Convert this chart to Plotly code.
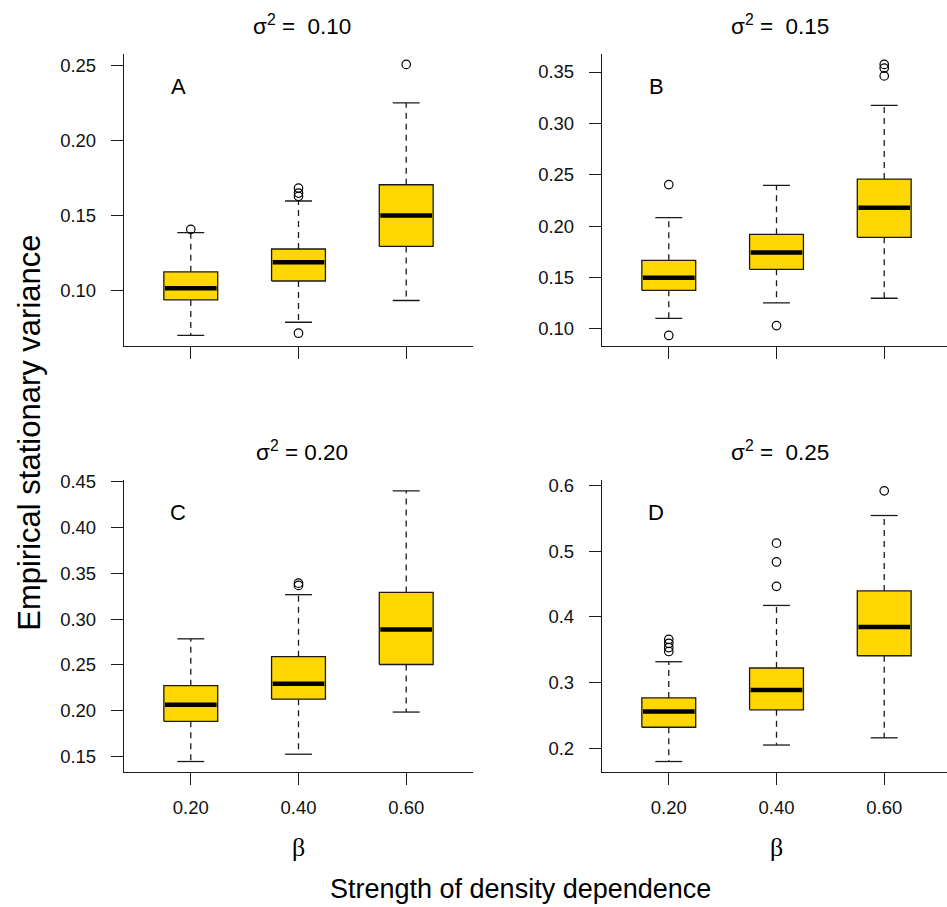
import plotly.graph_objects as go

# ---------------- data ----------------
beta_vals = [1, 2, 3]
beta_labels = ["0.20", "0.40", "0.60"]
panel_letters = ["A", "B", "C", "D"]
panel_titles = ["σ<sup>2</sup> =\u00a0\u00a00.10", "σ<sup>2</sup> =\u00a0\u00a00.15",
                "σ<sup>2</sup> = 0.20", "σ<sup>2</sup> =\u00a0\u00a00.25"]

# Panel A  (sigma^2 = 0.10)
a_lower = [0.0699, 0.0787, 0.0932]
a_q1 = [0.0936, 0.1062, 0.1292]
a_median = [0.1013, 0.1187, 0.1499]
a_q3 = [0.1123, 0.1275, 0.1703]
a_upper = [0.1384, 0.1595, 0.2248]
a_outliers = [[0.1406], [0.1681, 0.1648, 0.1626, 0.0714], [0.2505]]
a_ticks = [0.10, 0.15, 0.20, 0.25]

# Panel B  (sigma^2 = 0.15)
b_lower = [0.1103, 0.1253, 0.1298]
b_q1 = [0.1375, 0.1580, 0.1891]
b_median = [0.1497, 0.1744, 0.2179]
b_q3 = [0.1667, 0.1920, 0.2458]
b_upper = [0.2083, 0.2397, 0.3176]
b_outliers = [[0.2404, 0.0936], [0.1032], [0.3574, 0.3538, 0.3462]]
b_ticks = [0.10, 0.15, 0.20, 0.25, 0.30, 0.35]

# Panel C  (sigma^2 = 0.20)
c_lower = [0.1442, 0.1522, 0.1983]
c_q1 = [0.1882, 0.2124, 0.2503]
c_median = [0.2063, 0.2293, 0.2885]
c_q3 = [0.2272, 0.2589, 0.3292]
c_upper = [0.2784, 0.3267, 0.4403]
c_outliers = [[], [0.3393, 0.3368], []]
c_ticks = [0.15, 0.20, 0.25, 0.30, 0.35, 0.40, 0.45]

# Panel D  (sigma^2 = 0.25)
d_lower = [0.1799, 0.2050, 0.2160]
d_q1 = [0.2321, 0.2586, 0.3409]
d_median = [0.2561, 0.2887, 0.3845]
d_q3 = [0.2767, 0.3223, 0.4396]
d_upper = [0.3318, 0.4175, 0.5544]
d_outliers = [[0.3659, 0.3599, 0.3534, 0.3474], [0.5123, 0.4837, 0.4466], [0.5920]]
d_ticks = [0.2, 0.3, 0.4, 0.5, 0.6]

panels = [
    (a_lower, a_q1, a_median, a_q3, a_upper, a_outliers, a_ticks, ".2f"),
    (b_lower, b_q1, b_median, b_q3, b_upper, b_outliers, b_ticks, ".2f"),
    (c_lower, c_q1, c_median, c_q3, c_upper, c_outliers, c_ticks, ".2f"),
    (d_lower, d_q1, d_median, d_q3, d_upper, d_outliers, d_ticks, ".1f"),
]

# ---------------- styling ----------------
FONT = "Liberation Sans, Arial, Helvetica, sans-serif"
GOLD = "#FFD700"
INK = "#1a1a1a"
LW = 1.3
BOX_HALF = 0.25
CAP_HALF = 0.125

W, H = 947, 907
# plot regions in pixels (left, right, top, bottom)
regions = [
    (124, 473, 45, 340.7),
    (602, 951, 45, 340.7),
    (124, 473, 475.7, 771),
    (602, 951, 475.7, 771),
]
XLO, XHI = 0.38, 3.62


def py(p):  # pixel from top -> paper fraction
    return 1 - p / H


def px(p):
    return p / W


fig = go.Figure()

for i, (lo, q1, med, q3, up, outs, ticks, fmt) in enumerate(panels):
    n = i + 1
    xa = "x" if n == 1 else f"x{n}"
    ya = "y" if n == 1 else f"y{n}"
    for j, c in enumerate(beta_vals):
        # dashed whiskers
        fig.add_trace(go.Scatter(
            x=[c, c, None, c, c], y=[q3[j], up[j], None, q1[j], lo[j]],
            mode="lines", line=dict(color=INK, width=LW, dash="6px,5px"),
            xaxis=xa, yaxis=ya, hoverinfo="skip", showlegend=False))
        # staples
        fig.add_trace(go.Scatter(
            x=[c - CAP_HALF, c + CAP_HALF, None, c - CAP_HALF, c + CAP_HALF],
            y=[up[j], up[j], None, lo[j], lo[j]],
            mode="lines", line=dict(color=INK, width=LW),
            xaxis=xa, yaxis=ya, hoverinfo="skip", showlegend=False))
        # box
        fig.add_trace(go.Scatter(
            x=[c - BOX_HALF, c + BOX_HALF, c + BOX_HALF, c - BOX_HALF, c - BOX_HALF],
            y=[q1[j], q1[j], q3[j], q3[j], q1[j]],
            mode="lines", fill="toself", fillcolor=GOLD,
            line=dict(color=INK, width=LW),
            xaxis=xa, yaxis=ya, hoverinfo="skip", showlegend=False))
        # median
        fig.add_trace(go.Scatter(
            x=[c - BOX_HALF + 0.01, c + BOX_HALF - 0.01], y=[med[j], med[j]],
            mode="lines", line=dict(color="black", width=4.5),
            xaxis=xa, yaxis=ya, hoverinfo="skip", showlegend=False))
        # outliers
        if outs[j]:
            fig.add_trace(go.Scatter(
                x=[c] * len(outs[j]), y=outs[j], mode="markers",
                marker=dict(symbol="circle-open", size=8.5, color="black",
                            line=dict(width=1.2, color="black")),
                xaxis=xa, yaxis=ya, hoverinfo="skip", showlegend=False))

    # axis ranges: R style 4% extension
    allv = lo + up + [v for o in outs for v in o]
    vmin, vmax = min(allv), max(allv)
    pad = 0.04 * (vmax - vmin)

    L, R, T, B = regions[i]
    Rc = min(R, W)
    x_hi = XLO + (XHI - XLO) * (Rc - L) / (R - L)
    axis_common = dict(
        showline=True, linecolor=INK, linewidth=LW, ticks="outside",
        ticklen=12, tickwidth=LW, tickcolor=INK, showgrid=False,
        zeroline=False, tickfont=dict(family=FONT, size=18.5, color="#111"),
    )
    fig.update_layout(**{
        ("xaxis" if n == 1 else f"xaxis{n}"): dict(
            domain=[px(L), px(Rc)], range=[XLO, x_hi], anchor=ya,
            tickvals=beta_vals, ticktext=beta_labels,
            showticklabels=(n >= 3),
            ticklabelstandoff=6, **axis_common),
        ("yaxis" if n == 1 else f"yaxis{n}"): dict(
            domain=[py(B), py(T)], range=[vmin - pad, vmax + pad],
            anchor=xa, tickvals=ticks,
            ticktext=[format(t, fmt) for t in ticks],
            ticklabelstandoff=11, **axis_common),
    })

    # panel letter
    fig.add_annotation(
        text=panel_letters[i], xref="paper", yref="paper",
        x=px(L + 0.155 * (R - L)), y=py(T + 33), showarrow=False,
        font=dict(family=FONT, size=22, color="black"),
        xanchor="center", yanchor="middle")
    # panel title
    fig.add_annotation(
        text=panel_titles[i], xref="paper", yref="paper",
        x=px((L + R) / 2 + 3), y=py(T - 29), showarrow=False,
        font=dict(family=FONT, size=22.5, color="black"),
        xanchor="center", yanchor="middle")
    # beta label under bottom panels
    if n >= 3:
        fig.add_annotation(
            text="β", xref="paper", yref="paper",
            x=px((L + R) / 2), y=py(847), showarrow=False,
            font=dict(family="Liberation Serif, DejaVu Serif, serif", size=26,
                      color="black"),
            xanchor="center", yanchor="middle")

# global axis titles
fig.add_annotation(
    text="Empirical stationary variance", xref="paper", yref="paper",
    x=px(30), y=py(428), textangle=-90, showarrow=False,
    font=dict(family=FONT, size=31, color="black"),
    xanchor="center", yanchor="middle")
fig.add_annotation(
    text="Strength of density dependence", xref="paper", yref="paper",
    x=px(520), y=py(889), showarrow=False,
    font=dict(family=FONT, size=27, color="black"),
    xanchor="center", yanchor="middle")

fig.update_layout(
    width=W, height=H, margin=dict(l=0, r=0, t=0, b=0),
    paper_bgcolor="white", plot_bgcolor="white", showlegend=False,
    font=dict(family=FONT, color="black"),
)

fig.write_html(
    "out.html",
    config={"displayModeBar": False},
    post_script="document.body.style.margin='0';"
                "document.documentElement.style.overflow='hidden';",
)
